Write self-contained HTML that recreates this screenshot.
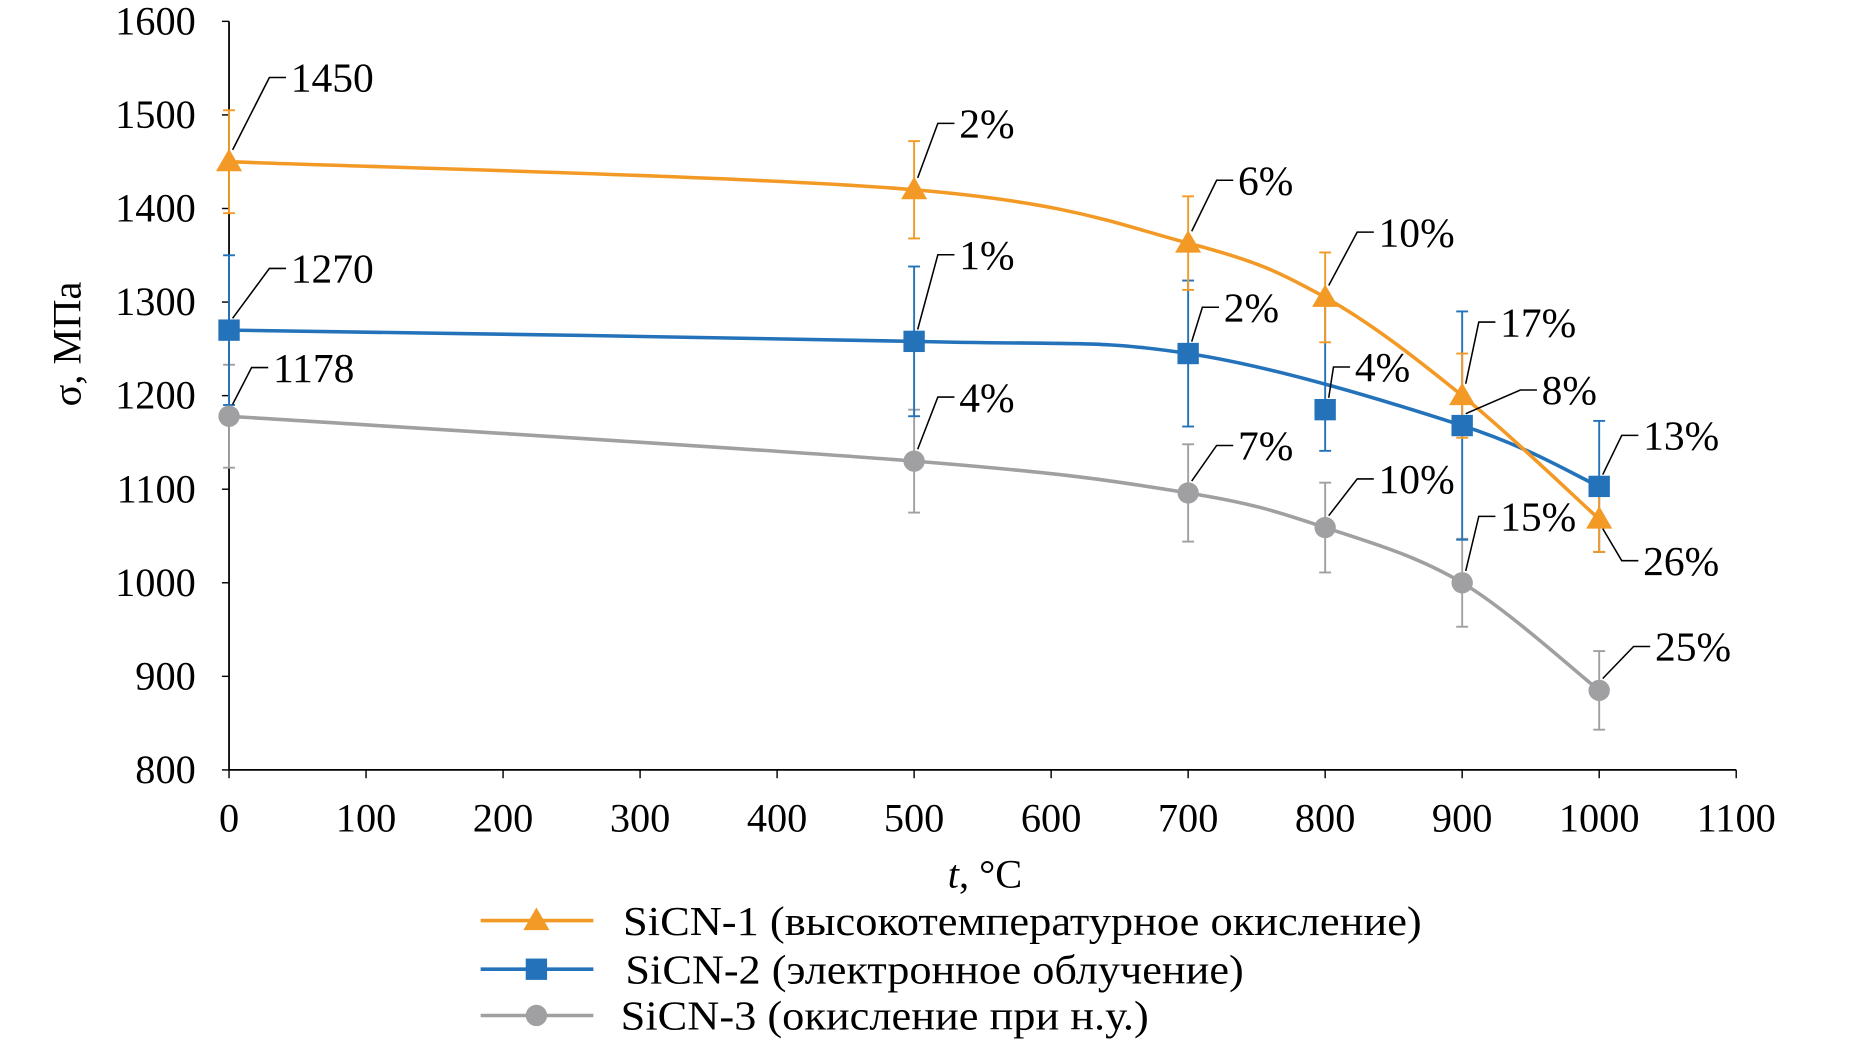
<!DOCTYPE html>
<html><head><meta charset="utf-8"><style>
html,body{margin:0;padding:0;background:#fff;}
svg{display:block;}
text{font-family:"Liberation Serif","Noto Serif CJK SC",serif;fill:#000;}
</style></head><body>
<svg id="chart" width="1862" height="1057" viewBox="0 0 1569 891" preserveAspectRatio="none" xmlns="http://www.w3.org/2000/svg"></svg>
<script>
const xTicks=[0,100,200,300,400,500,600,700,800,900,1000,1100];
const yTicks=[800,900,1000,1100,1200,1300,1400,1500,1600];
const temps=[0,500,700,800,900,1000];
const s1Values=[1450,1420,1363,1305,1200,1068];
const s2Values=[1270,1258,1245,1185,1168,1103];
const s3Values=[1178,1130,1096,1059,1000,885];
const s1ErrUp=[55,52,50,48,45,35];
const s1ErrDown=[55,52,50,48,45,35];
const s2ErrUp=[80,80,78,120,122,70];
const s2ErrDown=[80,80,78,44,122,70];
const s3ErrUp=[55,55,52,48,47,42];
const s3ErrDown=[55,55,52,48,47,42];
const s1Labels=["1450","2%","6%","10%","17%","26%"];
const s2Labels=["1270","1%","2%","4%","8%","13%"];
const s3Labels=["1178","4%","7%","10%","15%","25%"];
const legendNames=["SiCN-1 (высокотемпературное окисление)","SiCN-2 (электронное облучение)","SiCN-3 (окисление при н.у.)"];

const NS="http://www.w3.org/2000/svg";
const svg=document.getElementById('chart');
const X0=193,X1=1463,Y0=649,Y1=18;
const sx=v=>X0+(v-0)/(1100)*(X1-X0);
const sy=v=>Y0-(v-800)/800*(Y0-Y1);
function mk(tag,attrs,parent){const e=document.createElementNS(NS,tag);for(const k in attrs)e.setAttribute(k,attrs[k]);(parent||svg).appendChild(e);return e;}

let ax=mk('line',{x1:X0,y1:Y1,x2:X0,y2:Y0,stroke:'#000','stroke-width':1.5});


let axx=mk('line',{x1:X0,y1:Y0,x2:X1,y2:Y0,stroke:'#000','stroke-width':1.5});


yTicks.forEach(v=>{
  mk('line',{x1:X0-6,y1:sy(v),x2:X0,y2:sy(v),stroke:'#000','stroke-width':1.2});
  const t=mk('text',{x:X0-28,y:sy(v)+11,'text-anchor':'end','font-size':34});
  t.textContent=v;
  
  
});
xTicks.forEach(v=>{
  mk('line',{x1:sx(v),y1:Y0,x2:sx(v),y2:Y0+7,stroke:'#000','stroke-width':1.2});
  const t=mk('text',{x:sx(v),y:701,'text-anchor':'middle','font-size':34});
  t.textContent=v;
  
  
});
let yt=mk('text',{x:0,y:0,'text-anchor':'middle','font-size':34,transform:'translate(68,290) rotate(-90)'});
yt.textContent='σ, МПа';


let xt=mk('text',{x:830,y:748,'text-anchor':'middle','font-size':34});
xt.innerHTML='<tspan font-style="italic">t</tspan>, °C';



function smoothPath(pts){
  let d='M'+pts[0][0]+','+pts[0][1];
  for(let i=0;i<pts.length-1;i++){
    const p0=pts[i-1]||pts[i],p1=pts[i],p2=pts[i+1],p3=pts[i+2]||p2;
    const t=0.5/3;
    const c1=[p1[0]+(p2[0]-p0[0])*t,p1[1]+(p2[1]-p0[1])*t];
    const c2=[p2[0]-(p3[0]-p1[0])*t,p2[1]-(p3[1]-p1[1])*t];
    d+=` C${c1[0]},${c1[1]} ${c2[0]},${c2[1]} ${p2[0]},${p2[1]}`;
  }
  return d;
}
function marker(type,x,y,color,name){
  let e;
  if(type==='tri') e=mk('polygon',{points:`${x},${y-11} ${x-11},${y+8} ${x+11},${y+8}`,fill:color});
  else if(type==='sq') e=mk('rect',{x:x-9,y:y-9,width:18,height:18,fill:color});
  else e=mk('circle',{cx:x,cy:y,r:9,fill:color});
  
  
}
const series=[
 {vals:s1Values,up:s1ErrUp,dn:s1ErrDown,color:'#F39A26',m:'tri',name:'sicn-1',labels:s1Labels,skip:-1},
 {vals:s2Values,up:s2ErrUp,dn:s2ErrDown,color:'#2473BA',m:'sq',name:'sicn-2',labels:s2Labels,skip:3},
 {vals:s3Values,up:s3ErrUp,dn:s3ErrDown,color:'#A0A0A2',m:'circ',name:'sicn-3',labels:s3Labels,skip:-1}
];
[2,1,0].forEach(si=>{
  const s=series[si];
  temps.forEach((t,i)=>{
    const x=sx(t),a=sy(s.vals[i]+s.up[i]),b=sy(s.vals[i]-s.dn[i]);
    const g=mk('g',{stroke:s.color,'stroke-width':1.6});
    
    
    mk('line',{x1:x,y1:a,x2:x,y2:b},g);
    mk('line',{x1:x-5,y1:a,x2:x+5,y2:a},g);
    mk('line',{x1:x-5,y1:b,x2:x+5,y2:b},g);
  });
});
[2,1,0].forEach(si=>{
  const s=series[si];
  const pts=temps.map((t,i)=>[sx(t),sy(s.vals[i])]);
  const linePts=pts.filter((p,i)=>i!==s.skip);
  const p=mk('path',{d:smoothPath(linePts),fill:'none',stroke:s.color,'stroke-width':3});
  
  
  pts.forEach(pt=>marker(s.m,pt[0],pt[1],s.color,s.name+'-point'));
});
const labelOffsets=[
 [[52,-71],[38,-56],[42,-53],[45,-55],[32,-62],[37,35]],
 [[52,-52],[38,-73],[30,-39],[25,-36],[67,-30],[37,-43]],
 [[37,-41],[38,-54],[42,-40],[45,-41],[32,-56],[47,-37]]
];
series.forEach((s,si)=>{
  temps.forEach((t,i)=>{
    const px=sx(t),py=sy(s.vals[i]);
    const [dx,dy]=labelOffsets[si][i];
    const tx=px+dx,ty=py+dy;
    const down=dy>0;
    const mx=tx-18;
    mk('polyline',{points:`${px+3},${py+(down?8:-10)} ${mx},${ty} ${tx-4},${ty}`,fill:'none',stroke:'#000','stroke-width':1.3});
    const lt=mk('text',{x:tx,y:ty+12,'font-size':35});
    lt.textContent=s.labels[i];
    
    
  });
});
const legY=[776,817,856];
const legLen=[673,521,445];
series.forEach((s,i)=>{
  const g=mk('g',{});
  
  
  mk('line',{x1:405,y1:legY[i],x2:500,y2:legY[i],stroke:s.color,'stroke-width':3},g);
  const y=legY[i],x=452;
  if(s.m==='tri') mk('polygon',{points:`${x},${y-11} ${x-11},${y+8} ${x+11},${y+8}`,fill:s.color},g);
  else if(s.m==='sq') mk('rect',{x:x-9,y:y-9,width:18,height:18,fill:s.color},g);
  else mk('circle',{cx:x,cy:y,r:9,fill:s.color},g);
  const t=mk('text',{x:[525,527,523][i],y:y+12,'font-size':35,textLength:legLen[i],lengthAdjust:'spacingAndGlyphs'},g);
  t.textContent=legendNames[i];
});
</script>
</body></html>
